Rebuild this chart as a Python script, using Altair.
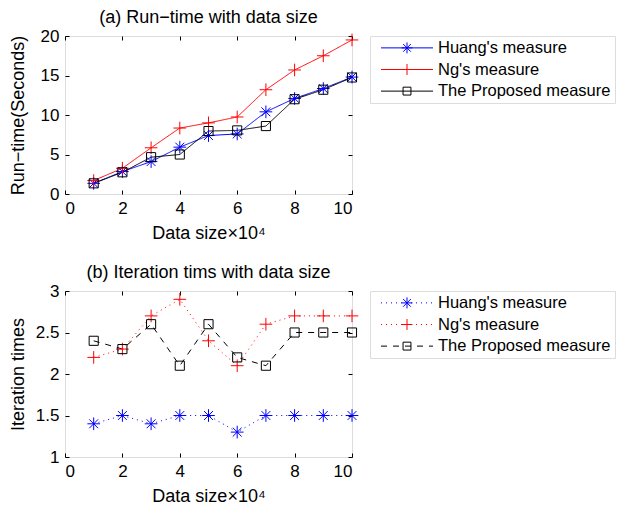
import altair as alt
import pandas as pd

sizes = [1, 2, 3, 4, 5, 6, 7, 8, 9, 10]
series = ["Huang's measure", "Ng's measure", "The Proposed measure"]

runtime_huang = [1.35, 2.84, 4.1, 5.93, 7.4, 7.6, 10.4, 12.1, 13.35, 14.8]
runtime_ng = [1.7, 3.26, 5.85, 8.35, 9.0, 9.75, 13.2, 15.7, 17.5, 19.5]
runtime_proposed = [1.35, 2.75, 4.66, 5.0, 7.97, 8.05, 8.6, 12.0, 13.2, 14.75]

iter_huang = [1.4, 1.5, 1.4, 1.5, 1.5, 1.3, 1.5, 1.5, 1.5, 1.5]
iter_ng = [2.2, 2.3, 2.7, 2.9, 2.4, 2.1, 2.6, 2.7, 2.7, 2.7]
iter_proposed = [2.4, 2.3, 2.6, 2.1, 2.6, 2.2, 2.1, 2.5, 2.5, 2.5]

x_ticks = [0, 2, 4, 6, 8, 10]
y_ticks_a = [0, 5, 10, 15, 20]
y_ticks_b = [1, 1.5, 2, 2.5, 3]

FONT = "Liberation Sans"
colors = ["#0000ff", "#ff0000", "#000000"]
shapes = [
    "M-1,0L1,0M0,-1L0,1M-0.7,-0.7L0.7,0.7M-0.7,0.7L0.7,-0.7",
    "M-1,0L1,0M0,-1L0,1",
    "M-0.72,-0.72L0.72,-0.72L0.72,0.72L-0.72,0.72Z",
]


def make_df(vals):
    rows = []
    for name, v in zip(series, vals):
        for s, y in zip(sizes, v):
            rows.append({"series": name, "size": s, "value": y})
    return pd.DataFrame(rows)


def panel(df, title, ytitle, ydomain, yticks, dashes, height):
    cscale = alt.Scale(domain=series, range=colors)
    sscale = alt.Scale(domain=series, range=shapes)
    dscale = alt.Scale(domain=series, range=dashes)
    xs = alt.Scale(domain=[0, 10], nice=False)
    ys = alt.Scale(domain=ydomain, nice=False)
    common_axis = dict(domain=False, grid=False, tickSize=4, offset=-4, tickColor="black",
                       labelColor="black", labelFont=FONT, labelFontSize=17,
                       titleFont=FONT, titleFontSize=18, titleFontWeight="normal",
                       titleColor="black")
    lines = alt.Chart(df).mark_line(strokeWidth=1).encode(
        x=alt.X("size:Q", scale=xs, axis=alt.Axis(values=x_ticks, title="Data size×10⁴",
                                                   labelPadding=6, titlePadding=8, **common_axis)),
        y=alt.Y("value:Q", scale=ys, axis=alt.Axis(values=yticks, title=ytitle, labelPadding=6,
                                                    labelExpr="'' + datum.value", titleX=-42,
                                                    **common_axis)),
        color=alt.Color("series:N", scale=cscale, legend=None),
        strokeDash=alt.StrokeDash("series:N", scale=dscale, legend=None),
    )
    noax = dict(domain=False, grid=False, tickSize=4, offset=-4, tickColor="black",
                labels=False, title=None)
    points = alt.Chart(df).mark_point(filled=False, size=160, strokeWidth=1, opacity=1).encode(
        x=alt.X("size:Q", scale=xs, axis=alt.Axis(values=x_ticks, orient="top", **noax)),
        y=alt.Y("value:Q", scale=ys, axis=alt.Axis(values=yticks, orient="right", **noax)),
        color=alt.Color("series:N", scale=cscale, legend=None),
        shape=alt.Shape("series:N", scale=sscale, legend=None),
    )
    plot = alt.layer(lines, points).resolve_axis(x="independent", y="independent").properties(
        width=287, height=height,
        title=alt.TitleParams(title, font=FONT, fontSize=18, fontWeight="normal",
                              color="black", offset=0, frame="group"),
    )

    leg_df = pd.DataFrame({"series": series})
    ly = alt.Y("series:N", sort=series, scale=alt.Scale(type="point", padding=0.55), axis=None)
    lrule = alt.Chart(leg_df).mark_rule(strokeWidth=1).encode(
        y=ly, x=alt.value(11), x2=alt.value(63),
        color=alt.Color("series:N", scale=cscale, legend=None),
        strokeDash=alt.StrokeDash("series:N", scale=dscale, legend=None),
    )
    lpt = alt.Chart(leg_df).mark_point(filled=False, size=120, strokeWidth=1, opacity=1).encode(
        y=ly, x=alt.value(37),
        color=alt.Color("series:N", scale=cscale, legend=None),
        shape=alt.Shape("series:N", scale=sscale, legend=None),
    )
    ltxt = alt.Chart(leg_df).mark_text(align="left", baseline="middle", font=FONT,
                                       fontSize=16.5, color="black").encode(
        y=ly, x=alt.value(68), text="series:N",
    )
    legend = alt.layer(lrule, lpt, ltxt).properties(
        width=245, height=67,
        title=alt.TitleParams(" ", font=FONT, fontSize=18, offset=0),
    )
    return alt.hconcat(plot, legend, spacing=8)


top = panel(make_df([runtime_huang, runtime_ng, runtime_proposed]),
            "(a) Run−time with data size", "Run−time(Seconds)", [0, 20], y_ticks_a,
            [[1, 0], [1, 0], [1, 0]], 158)
bottom = panel(make_df([iter_huang, iter_ng, iter_proposed]),
               "(b) Iteration tims with data size", "Iteration times", [1, 3], y_ticks_b,
               [[1, 4], [1, 4], [6, 6]], 166)

chart = alt.vconcat(top, bottom, spacing=20).resolve_scale(
    strokeDash="independent"
).configure_view(
    stroke="black", strokeWidth=1
).configure(background="white", padding=0)

chart.save("out.html", embed_options={"renderer": "svg", "actions": False})
